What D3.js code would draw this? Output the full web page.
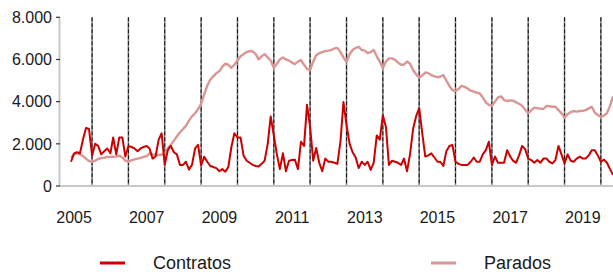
<!DOCTYPE html>
<html><head><meta charset="utf-8">
<script src="https://cdn.jsdelivr.net/npm/d3@7"></script>
<style>
html,body{margin:0;padding:0;background:#fff;}
text{font-family:"Liberation Sans",Arial,sans-serif;fill:#1a1a1a;}
</style></head>
<body><svg id="c" width="613" height="272"></svg>
<script>
// ---- data ----
const startMonth = "2005-01";
const yearLabels = ["2005","2007","2009","2011","2013","2015","2017","2019"];
const markerYears = [2005,2006,2007,2008,2009,2010,2011,2012,2013,2014,2015,2016,2017,2018,2019];
const yTicks = [0,2000,4000,6000,8000];
const seriesNames = ["Contratos","Parados"];
const contratos = [
1150,1550,1600,1550,2200,2750,2700,1450,2000,1900,1500,1650,
1780,1550,2300,1500,2300,2300,1400,1900,1850,1780,1650,1780,
1850,1900,1780,1300,1400,2200,2500,1000,1700,1900,1600,1500,
1000,1000,1150,780,1000,1780,1950,970,1390,1150,950,900,
850,700,800,680,900,1850,2500,2300,2300,1450,1200,1100,
1000,950,920,1050,1200,2000,3300,2400,1500,800,1550,700,
1200,1230,1250,800,2100,1900,3850,2800,1200,1800,1100,700,
1300,1150,1150,1100,1050,2100,3980,2900,2000,1600,1350,850,
1150,1000,1150,760,1100,2400,2200,3350,2800,1000,1200,1150,
1100,1000,1300,700,1500,2700,3300,3700,2500,1400,1450,1550,
1350,1150,1150,950,1650,1900,1950,1150,1050,1000,1000,1000,
1150,1350,1150,1150,1500,1700,2100,1000,1400,1100,1100,1100,
1700,1400,1200,1100,1450,1900,1750,1300,1230,1100,1230,1100,
1300,1300,1150,1070,1230,1900,1500,1070,1500,1200,1150,1300,
1390,1300,1300,1450,1700,1700,1450,1150,1250,1100,800,530
];
const parados = [
1340,1500,1550,1500,1420,1300,1180,1150,1200,1280,1320,1340,
1380,1380,1390,1400,1440,1350,1200,1150,1220,1260,1300,1330,
1380,1420,1550,1500,1480,1470,1480,1550,1800,1950,2150,2350,
2550,2700,2850,3100,3300,3450,3650,3900,4350,4750,5050,5200,
5350,5450,5650,5800,5750,5600,5750,5950,6150,6250,6350,6400,
6380,6250,6000,6150,6250,6100,5950,5600,5800,6000,6100,6000,
5950,5850,5780,5900,5970,5750,5550,5500,5900,6200,6300,6350,
6400,6420,6450,6520,6550,6350,6100,5890,6250,6450,6550,6600,
6450,6420,6300,6350,6450,6150,5900,5590,5900,6050,6050,5980,
5850,5750,5760,5900,5800,5500,5300,5130,5250,5380,5350,5260,
5200,5160,5180,5260,5000,4750,4550,4500,4600,4750,4700,4620,
4520,4470,4430,4390,4200,3960,3850,3800,4000,4200,4250,4080,
4030,4060,4050,3965,3900,3800,3620,3450,3600,3720,3690,3670,
3650,3800,3780,3760,3760,3600,3450,3240,3400,3500,3555,3530,
3555,3570,3600,3680,3760,3480,3365,3290,3340,3450,3800,4250
];
const colors = ["#cc0000","#d99694"];

// ---- chart ----
const svg = d3.select("#c");
const parse = d3.timeParse("%Y-%m");
const t0 = parse(startMonth);
const months = d3.timeMonth.range(t0, d3.timeMonth.offset(t0, contratos.length));
const x = d3.scaleTime().domain([months[0], months[months.length-1]]).range([71, 613]);
const y = d3.scaleLinear().domain([0, 8000]).range([186, 17.3]);

// vertical marker lines (mid-year)
const marks = markerYears.map(yr => new Date(yr, 7, 1));
const vg = svg.append("g");
vg.selectAll("line.g").data(marks).join("line")
  .attr("x1", d => x(d)).attr("x2", d => x(d))
  .attr("y1", y(8000)).attr("y2", y(0))
  .attr("stroke", "#8a8a8a").attr("stroke-width", 1.6);
vg.selectAll("line.k").data(marks).join("line")
  .attr("x1", d => x(d)).attr("x2", d => x(d))
  .attr("y1", y(8000)).attr("y2", y(0))
  .attr("stroke", "#111").attr("stroke-width", 1).attr("stroke-dasharray", "4,2");

// axes
svg.append("line").attr("x1", 59.5).attr("x2", 59.5).attr("y1", y(8000)).attr("y2", y(0))
  .attr("stroke", "#c8c8c8").attr("stroke-width", 2);
svg.append("line").attr("x1", 59).attr("x2", 613).attr("y1", y(0)).attr("y2", y(0))
  .attr("stroke", "#c8c8c8").attr("stroke-width", 2);

const fmt = v => d3.format(",")(v).replace(/,/g, ".");
const ya = svg.append("g");
ya.selectAll("line").data(yTicks).join("line")
  .attr("x1", 56).attr("x2", 60).attr("y1", d => y(d)).attr("y2", d => y(d))
  .attr("stroke", "#333").attr("stroke-width", 1.2);
ya.selectAll("text").data(yTicks).join("text")
  .attr("x", 52).attr("y", d => y(d)).attr("dy", "0.36em")
  .attr("text-anchor", "end").attr("font-size", 16).text(d => fmt(d));

svg.append("g").selectAll("text").data(yearLabels).join("text")
  .attr("x", d => x(new Date(+d, 1, 1)))
  .attr("y", 223).attr("text-anchor", "middle").attr("font-size", 16).text(d => d);

// lines
const line = d3.line().x((d, i) => x(months[i])).y(d => y(d));
svg.append("path").datum(parados).attr("d", line)
  .attr("fill", "none").attr("stroke", colors[1]).attr("stroke-width", 2.4).attr("stroke-linejoin", "round");
svg.append("path").datum(contratos).attr("d", line)
  .attr("fill", "none").attr("stroke", colors[0]).attr("stroke-width", 2).attr("stroke-linejoin", "round");

// legend
const legX = [100, 431];
const lg = svg.append("g");
seriesNames.forEach((n, i) => {
  lg.append("line").attr("x1", legX[i]).attr("x2", legX[i] + 25).attr("y1", 263).attr("y2", 263)
    .attr("stroke", colors[i]).attr("stroke-width", 3);
  lg.append("text").attr("x", legX[i] + 53).attr("y", 269).attr("font-size", 18).text(n);
});
</script>
</body></html>
